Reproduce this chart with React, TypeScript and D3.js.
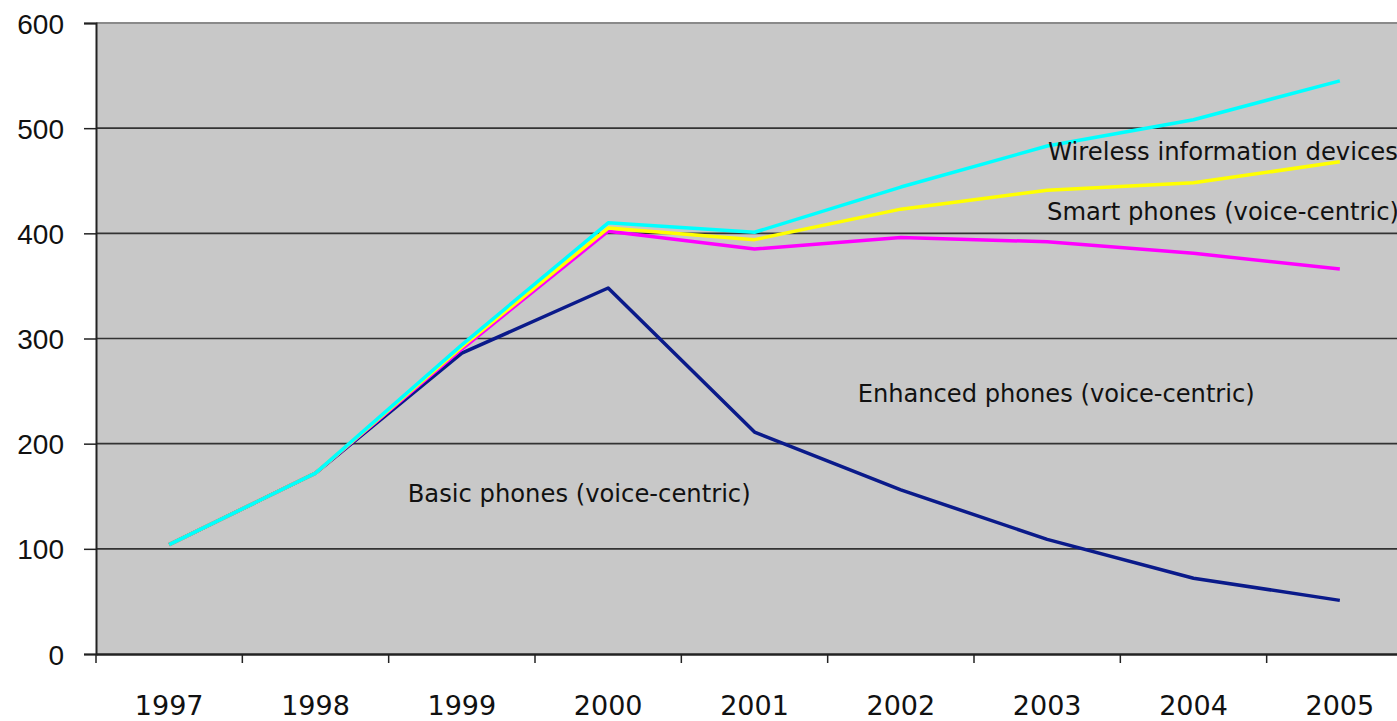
import { useEffect, useRef } from "react";
import * as d3 from "d3";

const years = ["1997", "1998", "1999", "2000", "2001", "2002", "2003", "2004", "2005"];
const basic = [104, 172, 286, 348, 211, 156, 109, 72, 51];
const enhanced = [104, 172, 290, 402, 385, 396, 392, 381, 366];
const smart = [104, 172, 292, 405, 394, 423, 441, 448, 468];
const wireless = [104, 172, 294, 410, 401, 444, 483, 508, 545];
const yTicks = [0, 100, 200, 300, 400, 500, 600];

const seriesList = [
  { name: "basic", values: basic, color: "#0a1a8a" },
  { name: "enhanced", values: enhanced, color: "#ff00ff" },
  { name: "smart", values: smart, color: "#ffff00" },
  { name: "wireless", values: wireless, color: "#00ffff" },
];

const labels = [
  { text: "Wireless information devices", year: "2003", value: 470, dx: 74, len: 350 },
  { text: "Smart phones (voice-centric)", year: "2003", value: 413, dx: 73, len: 352 },
  { text: "Enhanced phones (voice-centric)", year: "2002", value: 240, dx: 30, len: 397 },
  { text: "Basic phones (voice-centric)", year: "1999", value: 145, dx: 19, len: 343 },
];

export default function App() {
  const svgRef = useRef<SVGSVGElement | null>(null);

  useEffect(() => {
    const width = 1397;
    const height = 721;
    const margin = { top: 23, left: 96, bottom: 67 };
    const plotRight = 1413; // plot runs off the right edge of the picture

    const svg = d3.select(svgRef.current);
    svg.selectAll("*").remove();
    svg.attr("width", width).attr("height", height);

    const x = d3
      .scaleBand()
      .domain(years)
      .range([margin.left, plotRight])
      .padding(0);

    const y = d3
      .scaleLinear()
      .domain([0, 600])
      .range([height - margin.bottom, margin.top]);

    const bottom = y(0);

    svg
      .append("rect")
      .attr("x", margin.left)
      .attr("y", margin.top)
      .attr("width", plotRight - margin.left)
      .attr("height", bottom - margin.top)
      .attr("fill", "#c8c8c8");

    // gridlines
    svg
      .append("g")
      .selectAll("line")
      .data(yTicks.filter((d) => d > 0 && d < 600))
      .join("line")
      .attr("x1", margin.left)
      .attr("x2", plotRight)
      .attr("y1", (d) => y(d))
      .attr("y2", (d) => y(d))
      .attr("stroke", "#333")
      .attr("stroke-width", 1.6);

    svg
      .append("line")
      .attr("x1", margin.left)
      .attr("x2", plotRight)
      .attr("y1", y(600))
      .attr("y2", y(600))
      .attr("stroke", "#8a8a8a")
      .attr("stroke-width", 2);

    // y axis
    const yAxis = svg
      .append("g")
      .attr("transform", `translate(${margin.left},0)`)
      .call(d3.axisLeft(y).tickValues(yTicks).tickSize(12).tickPadding(20));
    yAxis.select(".domain").attr("stroke", "#222").attr("stroke-width", 2);
    yAxis.selectAll(".tick line").attr("stroke", "#222").attr("stroke-width", 1.5);
    yAxis
      .selectAll("text")
      .attr("font-family", "'Liberation Sans', Arial, sans-serif")
      .attr("font-size", 28)
      .attr("fill", "#111")
      .attr("dy", "0.36em");

    // x axis
    const xAxis = svg
      .append("g")
      .attr("transform", `translate(0,${bottom})`)
      .call(d3.axisBottom(x).tickSize(0).tickPadding(42));
    xAxis.select(".domain").attr("stroke", "#222").attr("stroke-width", 2.5);
    xAxis
      .selectAll("text")
      .attr("font-family", "'DejaVu Sans', sans-serif")
      .attr("font-size", 27)
      .attr("fill", "#111");

    svg
      .append("g")
      .selectAll("line")
      .data(years)
      .join("line")
      .attr("x1", (d) => x(d)!)
      .attr("x2", (d) => x(d)!)
      .attr("y1", bottom)
      .attr("y2", bottom + 9)
      .attr("stroke", "#222")
      .attr("stroke-width", 1.5);

    const line = d3
      .line<number>()
      .x((_, i) => x(years[i])! + x.bandwidth() / 2)
      .y((d) => y(d));

    svg
      .append("g")
      .selectAll("path")
      .data(seriesList)
      .join("path")
      .attr("fill", "none")
      .attr("stroke", (d) => d.color)
      .attr("stroke-width", 3.5)
      .attr("stroke-linejoin", "round")
      .attr("d", (d) => line(d.values));

    svg
      .append("g")
      .selectAll("text")
      .data(labels)
      .join("text")
      .attr("x", (d) => x(d.year)! + d.dx)
      .attr("y", (d) => y(d.value))
      .attr("font-family", "'DejaVu Sans', sans-serif")
      .attr("font-size", 24)
      .attr("fill", "#111")
      .attr("textLength", (d) => d.len)
      .attr("lengthAdjust", "spacingAndGlyphs")
      .text((d) => d.text);
  }, []);

  return (
    <div style={{ position: "fixed", left: 0, top: 0, background: "#fff" }}>
      <svg ref={svgRef} role="img" aria-label="Phone market chart"></svg>
    </div>
  );
}
